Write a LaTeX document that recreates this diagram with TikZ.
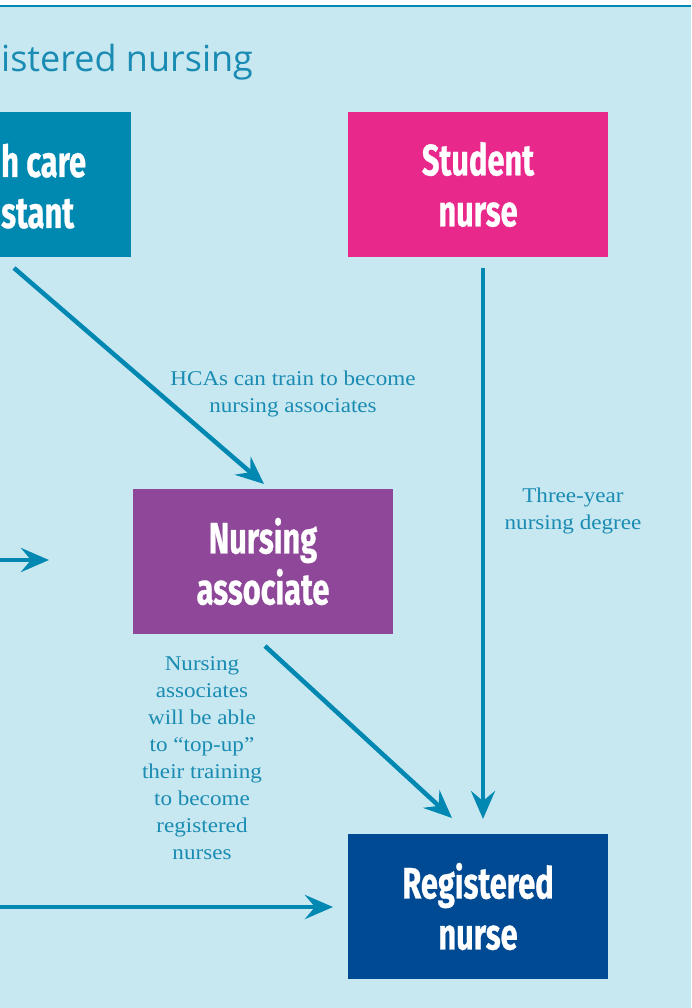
\documentclass[tikz,border=0pt]{standalone}
\usepackage{fontspec}
\usetikzlibrary{arrows.meta}
\newfontfamily\boxfont[FakeStretch=0.70, BoldFeatures={FakeBold=0.6}]{Fira Sans}
\newfontfamily\labelfont[FakeStretch=1.1]{Liberation Serif}
\newfontfamily\titlefont{Open Sans}
\definecolor{bg}{HTML}{C7E8F0}
\definecolor{linecol}{HTML}{0088B2}
\definecolor{hcacol}{HTML}{0089B0}
\definecolor{studcol}{HTML}{E8288B}
\definecolor{assoccol}{HTML}{8E4799}
\definecolor{rncol}{HTML}{004A93}
\definecolor{txtcol}{HTML}{1A8BB3}
\tikzset{
  x=1pt, y=-1pt,
  box/.style={rectangle, inner sep=0pt, minimum width=260pt, minimum height=145pt,
    text=white, align=center, font=\boxfont\bfseries\fontsize{44}{51}\selectfont},
  boxtext/.style={text=white, inner sep=0pt, font=\boxfont\bfseries\fontsize{44}{51}\selectfont},
  conn/.style={draw=linecol, line width=4.5pt,
    -{Stealth[length=28pt, width=24pt, inset=10pt]}},
  lbl/.style={text=txtcol, align=center, inner sep=0pt,
    font=\labelfont\fontsize{21}{27}\selectfont}
}
\begin{document}
\begin{tikzpicture}
\useasboundingbox (0,0) rectangle (691,1008);
\fill[white] (0,0) rectangle (691,1008);
\fill[bg] (0,6) rectangle (691,1008);
\draw[linecol, line width=2pt] (0,6) -- (691,6);
% title
\node[anchor=base west, inner sep=0pt, text=txtcol, font=\titlefont\fontsize{36}{40}\selectfont] (title) at (1,72) {istered nursing};
% boxes
\node[box, fill=hcacol, minimum width=150pt, anchor=north east] (hca) at (131,112) {};
\node[boxtext, anchor=base west] (hca1) at (1,177) {h care};
\node[boxtext, anchor=base west] (hca2) at (1,228) {stant};
\node[box, fill=studcol] (student) at (478,184.5) {Student\\nurse};
\node[box, fill=assoccol] (assoc) at (263,561.5) {Nursing\\associate};
\node[box, fill=rncol] (rn) at (478,906.5) {Registered\\nurse};
% connectors
\coordinate (hcaout) at (14,268);
\coordinate (associn) at (264,484);
\coordinate (studout) at (483,268);
\coordinate (rnin1) at (483,819);
\coordinate (assocout) at (265,646);
\coordinate (rnin2) at (452,818);
\coordinate (leftA) at (0,560);
\coordinate (leftAend) at (49,560);
\coordinate (leftB) at (0,907);
\coordinate (leftBend) at (333,907);
\draw[conn] (hcaout) -- (associn);
\draw[conn] (studout) -- (rnin1);
\draw[conn] (assocout) -- (rnin2);
\draw[conn] (leftA) -- (leftAend);
\draw[conn] (leftB) -- (leftBend);
% labels (anchor = baseline of last line)
\node[lbl, anchor=base] (l1) at (293,412) {HCAs can train to become\\nursing associates};
\node[lbl, anchor=base] (l2) at (573,529) {Three-year\\nursing degree};
\node[lbl, anchor=base] (l3) at (202,859) {Nursing\\associates\\will be able\\to “top-up”\\their training\\to become\\registered\\nurses};
\end{tikzpicture}
\end{document}
